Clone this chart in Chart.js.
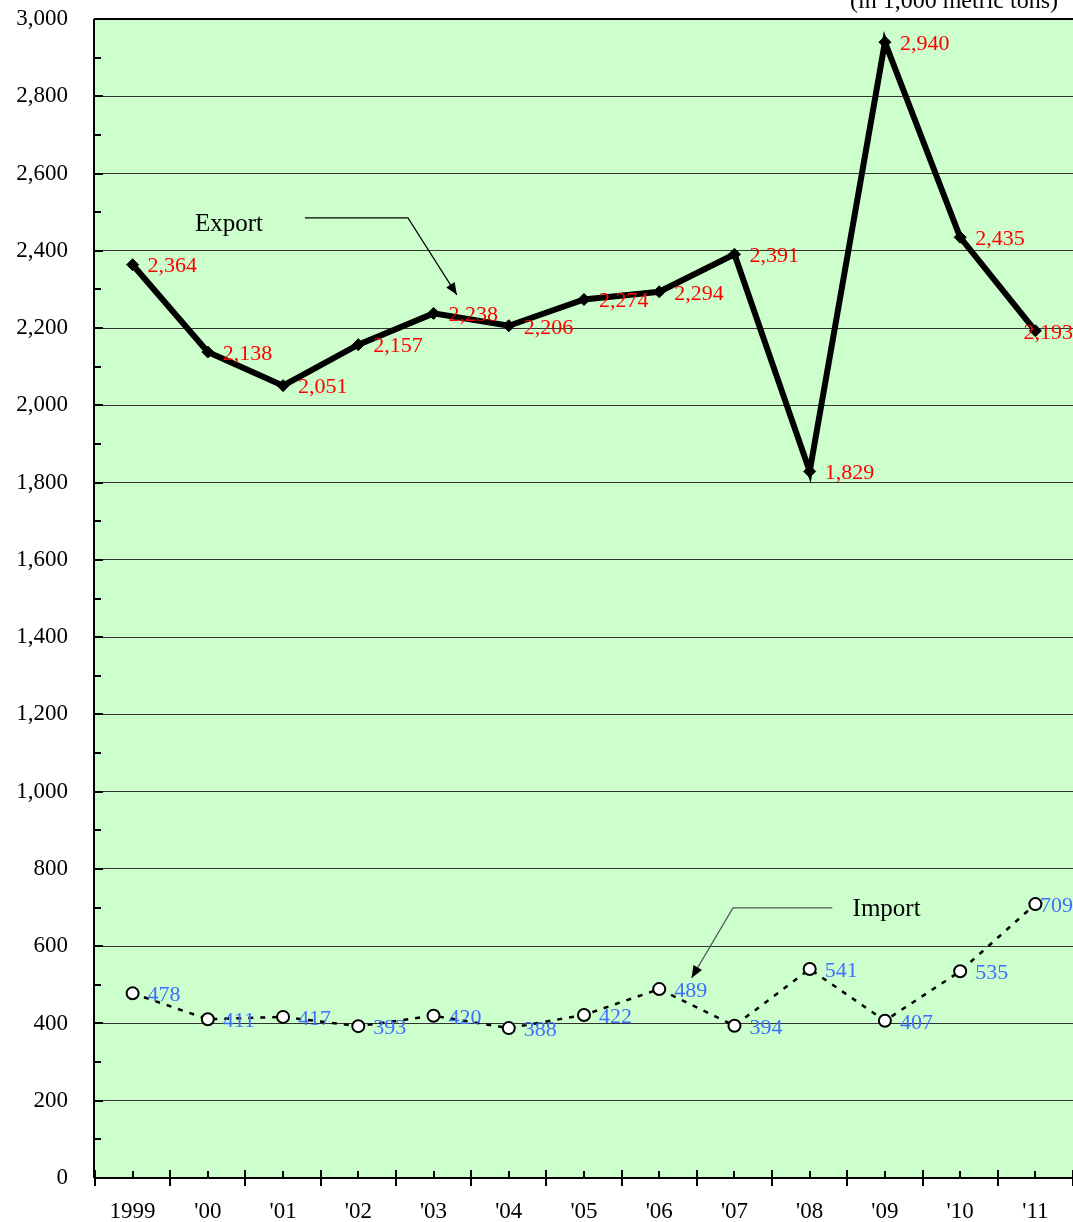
<!DOCTYPE html>
<html>
<head>
<meta charset="utf-8">
<script src="https://cdn.jsdelivr.net/npm/chart.js@4.4.0/dist/chart.umd.min.js"></script>
<style>
  html, body { margin: 0; padding: 0; background: #fff; }
  canvas { display: block; }
</style>
</head>
<body>
<canvas id="myChart" width="1073" height="1222"></canvas>
<script>
var years = ['1999', "'00", "'01", "'02", "'03", "'04", "'05", "'06", "'07", "'08", "'09", "'10", "'11"];
var exportValues = [2364, 2138, 2051, 2157, 2238, 2206, 2274, 2294, 2391, 1829, 2940, 2435, 2193];
var importValues = [478, 411, 417, 393, 420, 388, 422, 489, 394, 541, 407, 535, 709];
var yTickValues = [0, 200, 400, 600, 800, 1000, 1200, 1400, 1600, 1800, 2000, 2200, 2400, 2600, 2800, 3000];

var serif = '"Liberation Serif", "Times New Roman", serif';

function fmt(v) {
    return v.toLocaleString('en-US');
}

// background, axis lines, inside tick marks
var plotFrame = {
    id: 'plotFrame',
    beforeDraw: function (chart) {
        var a = chart.chartArea, ctx = chart.ctx;
        ctx.save();
        ctx.fillStyle = '#ccffcc';
        ctx.fillRect(a.left, a.top, a.right - a.left, a.bottom - a.top);
        ctx.restore();
    },
    afterDatasetsDraw: function (chart) {
        var a = chart.chartArea, ctx = chart.ctx;
        var xs = chart.scales.x, ys = chart.scales.y;
        ctx.save();
        ctx.strokeStyle = '#000';
        ctx.lineWidth = 2;
        ctx.beginPath();
        ctx.moveTo(a.left, a.top);
        ctx.lineTo(a.right, a.top);
        ctx.moveTo(a.left - 1, a.top);
        ctx.lineTo(a.left - 1, a.bottom);
        ctx.moveTo(a.left - 1, a.bottom);
        ctx.lineTo(a.right, a.bottom);
        // y ticks, major and minor, inside
        for (var v = 0; v <= 3000; v += 100) {
            var py = Math.round(ys.getPixelForValue(v));
            var len = v % 200 === 0 ? 9 : 7;
            ctx.moveTo(a.left - 1, py);
            ctx.lineTo(a.left - 1 + len, py);
        }
        // x ticks: boundaries cross the axis, centres inside
        for (var i = 0; i <= years.length; i++) {
            var bx = Math.round(xs.getPixelForValue(i - 0.5));
            ctx.moveTo(bx, a.bottom - 8);
            ctx.lineTo(bx, a.bottom + 8);
        }
        for (var j = 0; j < years.length; j++) {
            var cx = Math.round(xs.getPixelForValue(j));
            ctx.moveTo(cx, a.bottom - 7);
            ctx.lineTo(cx, a.bottom);
        }
        ctx.stroke();
        ctx.restore();
    }
};

function arrow(ctx, pts, color) {
    ctx.save();
    ctx.strokeStyle = color;
    ctx.fillStyle = '#000';
    ctx.lineWidth = 1.2;
    ctx.beginPath();
    ctx.moveTo(pts[0][0], pts[0][1]);
    for (var i = 1; i < pts.length; i++) ctx.lineTo(pts[i][0], pts[i][1]);
    ctx.stroke();
    var p = pts[pts.length - 1], q = pts[pts.length - 2];
    var ang = Math.atan2(p[1] - q[1], p[0] - q[0]);
    var L = 12, W = 5;
    ctx.beginPath();
    ctx.moveTo(p[0], p[1]);
    ctx.lineTo(p[0] - L * Math.cos(ang) + W * Math.sin(ang), p[1] - L * Math.sin(ang) - W * Math.cos(ang));
    ctx.lineTo(p[0] - L * Math.cos(ang) - W * Math.sin(ang), p[1] - L * Math.sin(ang) + W * Math.cos(ang));
    ctx.closePath();
    ctx.fill();
    ctx.restore();
}

// value labels, series names with arrows, unit note
var labelsPlugin = {
    id: 'labelsPlugin',
    afterDraw: function (chart) {
        var ctx = chart.ctx;
        var xs = chart.scales.x, ys = chart.scales.y;
        var colors = ['#ff0000', '#3f6fff'];
        ctx.save();
        ctx.font = '22px ' + serif;
        ctx.textBaseline = 'middle';
        ctx.textAlign = 'left';
        chart.data.datasets.forEach(function (ds, di) {
            var meta = chart.getDatasetMeta(di);
            ctx.fillStyle = colors[di];
            meta.data.forEach(function (el, k) {
                var t = fmt(ds.data[k]);
                var w = ctx.measureText(t).width;
                var x = Math.min(el.x + 15, chart.width - w);
                ctx.fillText(t, x, el.y + 2);
            });
        });

        function P(i, v) { return [xs.getPixelForValue(i), ys.getPixelForValue(v)]; }

        ctx.fillStyle = '#000';
        ctx.font = '25px ' + serif;
        ctx.textAlign = 'center';
        var e = P(1.28, 2467);
        ctx.fillText('Export', e[0], e[1]);
        ctx.textAlign = 'left';
        var m = P(9.57, 694);
        ctx.fillText('Import', m[0], m[1]);
        ctx.restore();

        arrow(ctx, [P(2.29, 2485), P(3.66, 2485), P(4.31, 2286)], '#000');
        arrow(ctx, [P(9.30, 699), P(7.98, 699), P(7.43, 518)], '#555');

        ctx.save();
        ctx.fillStyle = '#000';
        ctx.font = '24px ' + serif;
        ctx.textAlign = 'right';
        ctx.textBaseline = 'alphabetic';
        ctx.fillText('(in 1,000 metric tons)', 1058, 8);
        ctx.restore();
    }
};

var ctx = document.getElementById('myChart').getContext('2d');
var myChart = new Chart(ctx, {
    type: 'line',
    data: {
        labels: years,
        datasets: [{
            label: 'Export',
            data: exportValues,
            borderColor: '#000',
            borderWidth: 6,
            pointStyle: 'rectRot',
            pointRadius: 6,
            pointBackgroundColor: '#000',
            pointBorderColor: '#000',
            pointBorderWidth: 1,
            tension: 0
        }, {
            label: 'Import',
            data: importValues,
            borderColor: '#000',
            borderWidth: 2.5,
            borderDash: [5, 7],
            pointStyle: 'circle',
            pointRadius: 6,
            pointBackgroundColor: '#fff',
            pointBorderColor: '#000',
            pointBorderWidth: 2,
            tension: 0
        }]
    },
    options: {
        responsive: false,
        animation: false,
        layout: { autoPadding: false, padding: { top: 19, right: 0, bottom: 0, left: 0 } },
        plugins: {
            legend: { display: false },
            tooltip: { enabled: false }
        },
        scales: {
            x: {
                offset: true,
                grid: { display: false, drawTicks: false },
                border: { display: false },
                ticks: {
                    color: '#000',
                    font: { family: serif, size: 23 },
                    padding: 20,
                    maxRotation: 0
                },
                afterFit: function (scale) {
                    scale.height = 44;
                    scale.paddingLeft = 0;
                    scale.paddingRight = 0;
                }
            },
            y: {
                min: 0,
                max: 3000,
                afterBuildTicks: function (scale) {
                    scale.ticks = yTickValues.map(function (v) { return { value: v }; });
                },
                grid: { color: '#333', lineWidth: 1, drawTicks: false },
                border: { display: false },
                ticks: {
                    color: '#000',
                    font: { family: serif, size: 23 },
                    padding: 27,
                    callback: function (v) { return fmt(v); }
                },
                afterFit: function (scale) {
                    scale.width = 95;
                    scale.paddingTop = 0;
                    scale.paddingBottom = 0;
                }
            }
        }
    },
    plugins: [plotFrame, labelsPlugin]
});
</script>
</body>
</html>
